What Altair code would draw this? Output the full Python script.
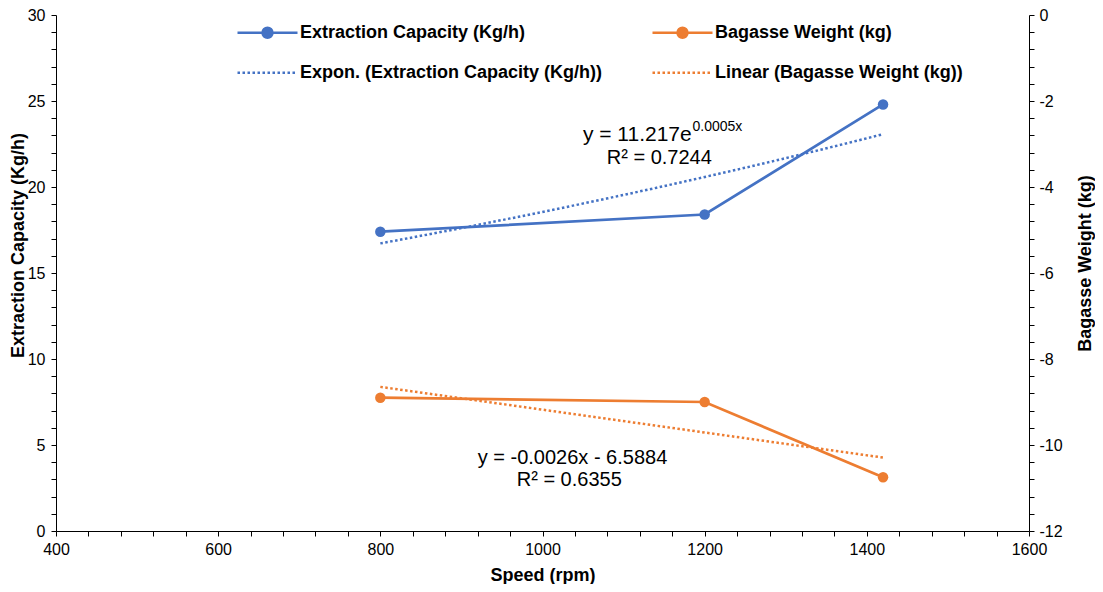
import altair as alt
import pandas as pd

# ---- data ----
speed = [800, 1200, 1420]
capacity = [17.4, 18.4, 24.8]
bagasse = [-8.9, -9.0, -10.75]

series_names = ["Extraction Capacity (Kg/h)", "Bagasse Weight (kg)"]
trend_names = ["Expon. (Extraction Capacity (Kg/h))", "Linear (Bagasse Weight (kg))"]
series_colors = ["#4472C4", "#ED7D31"]

x_ticks = list(range(400, 1601, 40))
left_ticks = list(range(0, 31))
right_ticks = [round(-12 + 0.4 * i, 1) for i in range(31)]

eq1_main = ["y = 11.217e"]
eq1_sup = ["0.0005x"]
eq1_r2 = ["R² = 0.7244"]
eq2_main = ["y = -0.0026x - 6.5884"]
eq2_r2 = ["R² = 0.6355"]

df = pd.DataFrame({"speed": speed, "capacity": capacity, "bagasse": bagasse})

FONT = "Liberation Sans"


def ring(r):
    return f"M{r},0A{r},{r},0,1,1,-{r},0A{r},{r},0,1,1,{r},0"


solid_path = "M-1,0H1" + ring(0.1667) + ring(0.1) + ring(0.0333)
dash_path = "M-1,0H1"

legend_common = dict(
    title=None, orient="none", legendX=180, columns=2, direction="horizontal",
    symbolSize=3600, symbolStrokeWidth=2.5, symbolOpacity=1,
    labelFont=FONT, labelFontSize=18, labelFontWeight="bold", labelColor="black",
    labelOffset=1, labelLimit=600,
)
legend_series = alt.Legend(legendY=-14, symbolType=solid_path, columnPadding=121, **legend_common)
legend_trend = alt.Legend(legendY=26, symbolType=dash_path, symbolDash=[2.5, 2.5],
                          columnPadding=44, **legend_common)

color_scale = alt.Scale(domain=series_names, range=series_colors)
stroke_scale = alt.Scale(domain=trend_names, range=series_colors)

axis_common = dict(
    grid=False, domainColor="black", tickColor="black", tickSize=5, tickWidth=1,
    tickCount=200, labelOverlap=False, labelFlush=False,
    labelFont=FONT, labelFontSize=16, labelColor="black",
    titleFont=FONT, titleFontSize=18, titleFontWeight="bold", titleColor="black",
)

x_axis = alt.Axis(
    values=x_ticks, title="Speed (rpm)",
    labelExpr="datum.value % 200 == 0 ? '' + datum.value : ''",
    labelPadding=5, titleBaseline="middle", titleY=44, **axis_common,
)
left_axis = alt.Axis(
    values=left_ticks, title="Extraction Capacity (Kg/h)", orient="left",
    labelExpr="datum.value % 5 == 0 ? '' + datum.value : ''",
    labelPadding=6, titleBaseline="middle", titleX=-38, titleY=230, titleAngle=270,
    **axis_common,
)
right_axis = alt.Axis(
    values=right_ticks, title="Bagasse Weight (kg)", orient="right",
    labelExpr="abs(datum.value - 2 * round(datum.value / 2)) < 0.01 ? '' + datum.value : ''",
    labelPadding=5, titleBaseline="middle", titleX=56, titleY=248, titleAngle=270,
    **axis_common,
)

x_main = alt.X("speed:Q", scale=alt.Scale(domain=[400, 1600], nice=False, zero=False), axis=x_axis)
x_plain = alt.X("speed:Q")

base = alt.Chart(df)

ext_line = base.transform_calculate(series=f"'{series_names[0]}'").mark_line(
    strokeWidth=2.75, point=alt.OverlayMarkDef(filled=True, size=110)
).encode(
    x=x_main,
    y=alt.Y("capacity:Q", scale=alt.Scale(domain=[0, 30], nice=False, zero=False), axis=left_axis),
    color=alt.Color("series:N", scale=color_scale, legend=legend_series),
)

# Excel-style exponential trendline: least squares fit of ln(y) on x, drawn as a curve
exp_trend = base.transform_calculate(
    lncap="log(datum.capacity)"
).transform_joinaggregate(
    mx="mean(speed)", my="mean(lncap)", xmin="min(speed)", xmax="max(speed)"
).transform_calculate(
    sxy="(datum.speed - datum.mx) * (datum.lncap - datum.my)",
    sxx="(datum.speed - datum.mx) * (datum.speed - datum.mx)",
).transform_joinaggregate(
    Sxy="sum(sxy)", Sxx="sum(sxx)"
).transform_filter(
    "datum.speed == datum.xmin"
).transform_calculate(
    seq="sequence(datum.xmin, datum.xmax + (datum.xmax - datum.xmin) / 80, (datum.xmax - datum.xmin) / 40)"
).transform_flatten(["seq"]).transform_calculate(
    xs="datum.seq",
    ys="exp(datum.my + datum.Sxy / datum.Sxx * (datum.seq - datum.mx))",
    trend=f"'{trend_names[0]}'",
).mark_line(strokeDash=[2.5, 2.5], strokeWidth=2.5).encode(
    x=alt.X("xs:Q"), y=alt.Y("ys:Q"),
    order=alt.Order("xs:Q"),
    stroke=alt.Stroke("trend:N", scale=stroke_scale, legend=legend_trend),
)


def label(texts, xv, yv, size=20, align="center"):
    return alt.Chart(pd.DataFrame({"t": texts})).mark_text(
        font=FONT, fontSize=size, color="black", align=align, baseline="middle"
    ).encode(text="t:N", x=alt.datum(xv), y=alt.datum(yv))


texts = [
    label(eq1_main, 1184, 23.02, size=21, align="right"),
    label(eq1_sup, 1185, 23.5, size=14, align="left"),
    label(eq1_r2, 1144, 21.69),
    label(eq2_main, 1037, 4.24),
    label(eq2_r2, 1033, 2.97),
]

bag_line = base.transform_calculate(series=f"'{series_names[1]}'").mark_line(
    strokeWidth=2.75, point=alt.OverlayMarkDef(filled=True, size=110)
).encode(
    x=x_plain,
    y=alt.Y("bagasse:Q", scale=alt.Scale(domain=[-12, 0], nice=False, zero=False), axis=right_axis),
    color=alt.Color("series:N"),
)

lin_trend = base.transform_regression("speed", "bagasse").transform_calculate(
    trend=f"'{trend_names[1]}'"
).mark_line(strokeDash=[2.5, 2.5], strokeWidth=2.5).encode(
    x=x_plain, y=alt.Y("bagasse:Q"),
    stroke=alt.Stroke("trend:N"),
)

left = alt.layer(ext_line, exp_trend, *texts)
right = alt.layer(bag_line, lin_trend)

chart = alt.layer(left, right).resolve_scale(y="independent").properties(
    width=973, height=516,
    padding={"left": 48, "top": 7, "right": 66, "bottom": 53},
    autosize=alt.AutoSizeParams(type="none"),
    background="white",
).configure_view(stroke=None)

chart.save("out.html", embed_options={"renderer": "svg", "actions": False})
